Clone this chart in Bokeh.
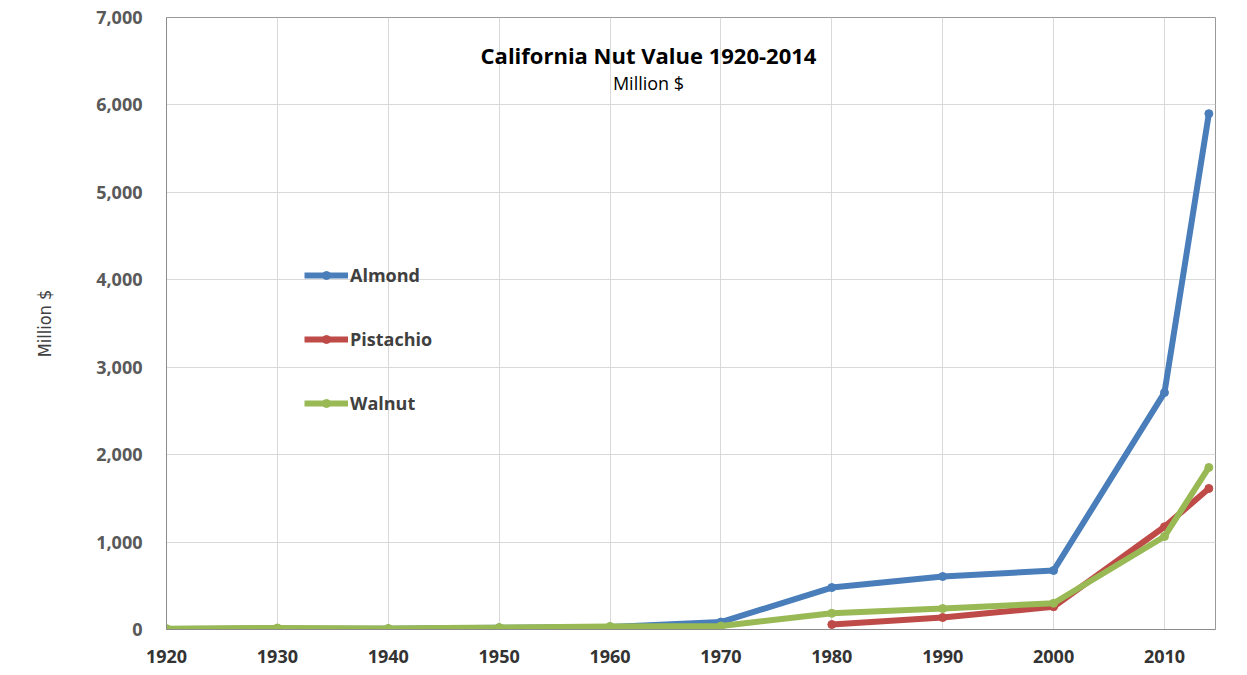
from bokeh.plotting import figure
from bokeh.models import Range1d, FixedTicker, NumeralTickFormatter, Label, Legend, LegendItem
from bokeh.embed import file_html
from bokeh.resources import INLINE

years = [1920, 1930, 1940, 1950, 1960, 1970, 1980, 1990, 2000, 2010, 2014]
almond = [5, 10, 8, 20, 30, 85, 480, 606, 675, 2710, 5900]
pist_years = [1980, 1990, 2000, 2010, 2014]
pistachio = [57, 137, 260, 1175, 1613]
walnut = [10, 18, 12, 22, 35, 40, 185, 240, 300, 1064, 1853]
x_ticks = [1920, 1930, 1940, 1950, 1960, 1970, 1980, 1990, 2000, 2010]

p = figure(width=1239, height=667, output_backend="svg", toolbar_location=None,
           x_range=Range1d(1920, 2014.6), y_range=Range1d(0, 7000),
           min_border_left=166, min_border_right=24, min_border_top=17, min_border_bottom=38)
p.outline_line_color = "#9a9a9a"
p.background_fill_color = "white"

p.xaxis.ticker = FixedTicker(ticks=x_ticks)
p.yaxis.ticker = FixedTicker(ticks=list(range(0, 7001, 1000)))
p.yaxis.formatter = NumeralTickFormatter(format="0,0")
for ax in (p.xaxis, p.yaxis):
    ax.major_tick_line_color = None
    ax.minor_tick_line_color = None
    ax.axis_line_color = "#8c8c8c"
    ax.major_label_text_font = "Open Sans"
    ax.major_label_text_font_size = "18px"
p.yaxis.major_label_text_font_style = "bold"
p.yaxis.major_label_text_color = "#595959"
p.xaxis.major_label_text_color = "#333333"
p.xaxis.major_label_text_font_style = "bold"
p.yaxis.major_label_standoff = 18
p.xaxis.major_label_standoff = 14
p.yaxis.axis_label = "Million $"
p.yaxis.axis_label_text_font = "'Liberation Sans Narrow', 'DejaVu Sans Condensed', Roboto, sans-serif"
p.yaxis.axis_label_text_font_style = "normal"
p.yaxis.axis_label_text_font_size = "18px"
p.yaxis.axis_label_text_color = "#404040"
p.yaxis.axis_label_standoff = 38

p.grid.grid_line_color = "#d9d9d9"
p.xgrid.ticker = FixedTicker(ticks=x_ticks)

series = [("Almond", years, almond, "#4a7ebb"),
          ("Pistachio", pist_years, pistachio, "#be4b48"),
          ("Walnut", years, walnut, "#98b954")]
items = []
for name, xs, ys, col in series:
    l = p.line(xs, ys, line_color=col, line_width=6)
    c = p.scatter(xs, ys, size=8, color=col)
    items.append(LegendItem(label=name, renderers=[l, c]))

legend = Legend(items=items, location=(138, 214), orientation="vertical",
                glyph_width=44, glyph_height=20, label_height=20, spacing=40,
                label_standoff=2, padding=0, margin=0,
                label_text_font="Open Sans", label_text_font_size="18px",
                label_text_color="#404040", label_text_font_style="bold",
                background_fill_alpha=0, border_line_color=None)
p.add_layout(legend)

p.add_layout(Label(x=482, y=575, x_units="screen", y_units="screen",
                   text="California Nut Value 1920-2014", text_align="center",
                   text_baseline="middle", text_font="Open Sans", text_font_style="bold",
                   text_font_size="22px", text_color="#000000"))
p.add_layout(Label(x=482, y=547, x_units="screen", y_units="screen",
                   text="Million $", text_align="center",
                   text_baseline="middle", text_font="Open Sans",
                   text_font_size="18px", text_color="#000000"))

open("out.html", "w").write(file_html(p, INLINE))
